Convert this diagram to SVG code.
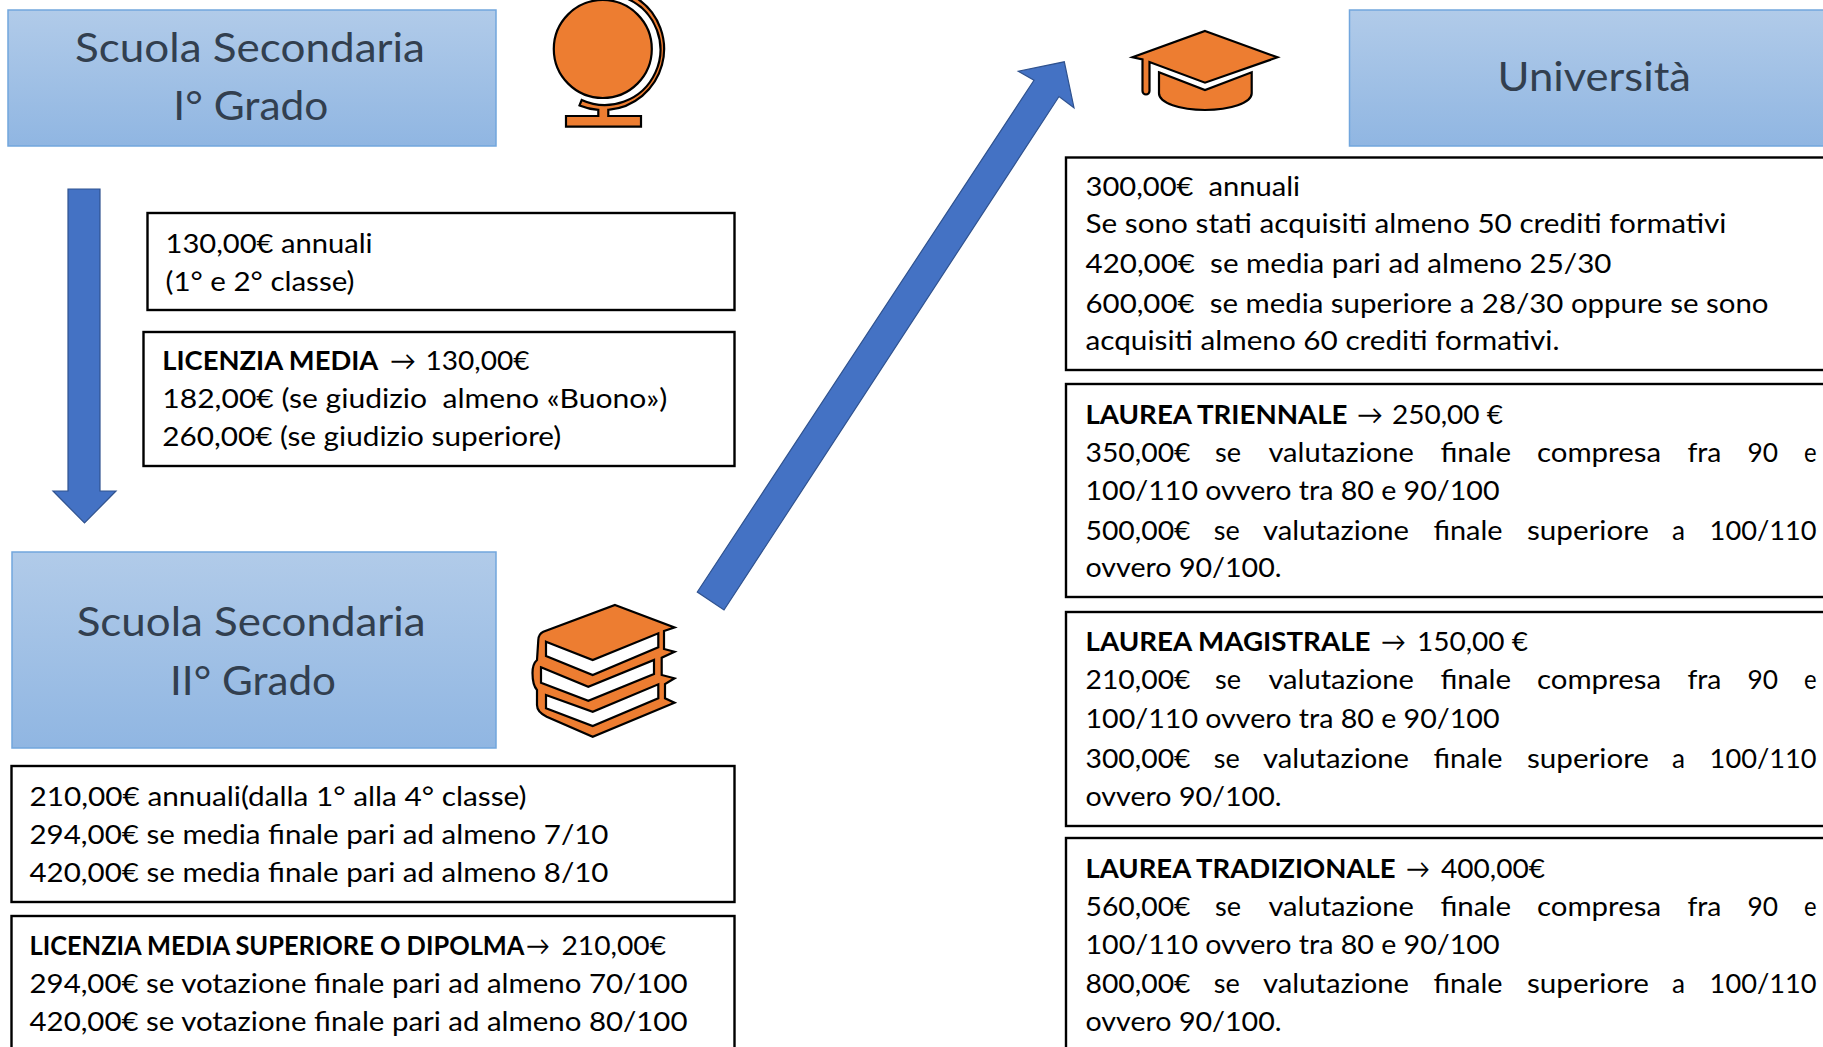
<svg xmlns="http://www.w3.org/2000/svg" width="1823" height="1047" viewBox="0 0 1823 1047">
<style>
text{white-space:pre}
.t{font-family:Lato,"Open Sans",sans-serif;font-size:26.5px;fill:#000}
.b{font-weight:700}
.h{font-family:Lato,"Open Sans",sans-serif;font-size:40px;fill:#323f4f}
.box{fill:#fff;stroke:#000;stroke-width:2.4}
.head{fill:url(#g);stroke:#72a6dd;stroke-width:1.5}
.arrow{fill:#4472c4;stroke:#2f528f;stroke-width:1.2}
.ic{fill:#ed7d31;stroke:#000;stroke-width:2.2;stroke-linejoin:miter}
.pg{fill:#fff;stroke:#000;stroke-width:2.2}
</style>
<defs>
<linearGradient id="g" x1="0" y1="0" x2="0" y2="1"><stop offset="0" stop-color="#b1cbe9"/><stop offset="1" stop-color="#90b6e2"/></linearGradient>
</defs>
<rect width="1823" height="1047" fill="#fff"/>
<g id="connectors">
<polygon class="arrow" points="68,189 100,189 100,491 116,491 84.5,523 53,491 68,491"/>
<polygon class="arrow" points="697.3,592 1034,80.3 1018.3,71.2 1064.3,61.8 1074,107.7 1059,96.5 724,610"/>
</g>
<g id="head-secondaria-1">
<rect class="head" x="8" y="10" width="488" height="136"/>
<text class="h" x="75" y="62" textLength="350" lengthAdjust="spacingAndGlyphs">Scuola Secondaria</text>
<text class="h" x="173.3" y="120" textLength="155" lengthAdjust="spacingAndGlyphs">I° Grado</text>
</g>
<g id="icon-globe">
<circle class="ic" cx="602.8" cy="49" r="49"/>
<path class="ic" d="M628,-1 A55,55 0 0 1 581.7,100 L579.5,105.4 A61,61 0 0 0 598.3,109.8 V116 H566 V126.7 H641 V116 H608.3 V109.8 A61,61 0 0 0 638,-1 Z"/>
</g>
<g id="head-secondaria-2">
<rect class="head" x="12" y="552" width="484" height="196"/>
<text class="h" x="76.7" y="636" textLength="349" lengthAdjust="spacingAndGlyphs">Scuola Secondaria</text>
<text class="h" x="170" y="694.5" textLength="166" lengthAdjust="spacingAndGlyphs">II° Grado</text>
</g>
<g id="icon-books">
<path class="ic" d="M615,605 L674.5,627.5 L664,631 V649 L674.5,651.7 L661.7,657.7 V675 L674.5,678.3 L665,684 V698.3 L674.5,702.7 L592.7,736.7 L546.7,716.7 Q537,712 537,705 V690 Q532.5,685 532.5,673 Q532.5,664 537,660 L538.3,640 Q538.5,634 543.3,631.7 Z"/>
<polygon class="pg" points="546,641.7 592.7,660 658.3,633.3 658.3,647.3 592.7,675 546,656"/>
<polygon class="pg" points="541,667.3 588.3,686.7 654,660 654,674 588.3,700.7 541,682.7"/>
<polygon class="pg" points="546,695 592.7,711.7 658.3,684.3 658.3,698.3 592.7,726 546,708.3"/>
</g>
<g id="head-universita">
<rect class="head" x="1349.5" y="10" width="480" height="136"/>
<text class="h" x="1497.5" y="91" textLength="193.5" lengthAdjust="spacingAndGlyphs">Università</text>
</g>
<g id="icon-cap">
<path class="ic" d="M1205,31 L1277.5,57.3 L1205,82.7 L1149.5,62 V91 a3.5,3.5 0 0 1 -7,0 V59.5 L1132.5,57.3 Z"/>
<path class="ic" d="M1159,72.3 L1205,90 L1251.7,72.3 V93.3 C1251.7,103 1230,110 1205,110 C1180,110 1159,103 1159,93.3 Z"/>
</g>
<g id="box-1">
<rect class="box" x="147.5" y="213" width="587" height="97"/>
<text class="t" x="165.5" y="252.7" textLength="207" lengthAdjust="spacingAndGlyphs">130,00€ annuali</text>
<text class="t" x="165.5" y="291" textLength="189" lengthAdjust="spacingAndGlyphs">(1° e 2° classe)</text>
</g>
<g id="box-2">
<rect class="box" x="143.5" y="332" width="591" height="134"/>
<text class="t" y="369.5"><tspan class="b" x="162.3" textLength="216" lengthAdjust="spacingAndGlyphs">LICENZIA MEDIA</tspan> <tspan x="390" textLength="26" lengthAdjust="spacingAndGlyphs">→</tspan> <tspan x="425.5" textLength="104" lengthAdjust="spacingAndGlyphs">130,00€</tspan></text>
<text class="t" x="162.3" y="407.7" textLength="505" lengthAdjust="spacingAndGlyphs">182,00€ (se giudizio  almeno «Buono»)</text>
<text class="t" x="162.3" y="446" textLength="399" lengthAdjust="spacingAndGlyphs">260,00€ (se giudizio superiore)</text>
</g>
<g id="box-3">
<rect class="box" x="11.5" y="766" width="723" height="136"/>
<text class="t" x="29.5" y="806" textLength="497" lengthAdjust="spacingAndGlyphs">210,00€ annuali(dalla 1° alla 4° classe)</text>
<text class="t" x="29.5" y="844" textLength="579" lengthAdjust="spacingAndGlyphs">294,00€ se media finale pari ad almeno 7/10</text>
<text class="t" x="29.5" y="882" textLength="579" lengthAdjust="spacingAndGlyphs">420,00€ se media finale pari ad almeno 8/10</text>
</g>
<g id="box-4">
<rect class="box" x="11.5" y="916" width="723" height="140"/>
<text class="t" y="955"><tspan class="b" x="29.5" textLength="495" lengthAdjust="spacingAndGlyphs">LICENZIA MEDIA SUPERIORE O DIPOLMA</tspan><tspan x="526" textLength="24" lengthAdjust="spacingAndGlyphs">→</tspan> <tspan x="561.5" textLength="104.5" lengthAdjust="spacingAndGlyphs">210,00€</tspan></text>
<text class="t" x="29.5" y="993" textLength="658" lengthAdjust="spacingAndGlyphs">294,00€ se votazione finale pari ad almeno 70/100</text>
<text class="t" x="29.5" y="1030.5" textLength="658" lengthAdjust="spacingAndGlyphs">420,00€ se votazione finale pari ad almeno 80/100</text>
</g>
<g id="box-5">
<rect class="box" x="1066" y="157.5" width="770" height="212.5"/>
<text class="t" x="1085.5" y="195.7" textLength="214.5" lengthAdjust="spacingAndGlyphs">300,00€  annuali</text>
<text class="t" x="1085.5" y="233.3" textLength="641" lengthAdjust="spacingAndGlyphs">Se sono stati acquisiti almeno 50 crediti formativi</text>
<text class="t" x="1085.5" y="272.7" textLength="526" lengthAdjust="spacingAndGlyphs">420,00€  se media pari ad almeno 25/30</text>
<text class="t" x="1085.5" y="312.5" textLength="683" lengthAdjust="spacingAndGlyphs">600,00€  se media superiore a 28/30 oppure se sono</text>
<text class="t" x="1085.5" y="350" textLength="474" lengthAdjust="spacingAndGlyphs">acquisiti almeno 60 crediti formativi.</text>
</g>
<g id="box-6">
<rect class="box" x="1066" y="384" width="770" height="213"/>
<text class="t" y="423.5"><tspan class="b" x="1085.5" textLength="262" lengthAdjust="spacingAndGlyphs">LAUREA TRIENNALE</tspan> <tspan x="1357" textLength="26" lengthAdjust="spacingAndGlyphs">→</tspan> <tspan x="1392" textLength="111" lengthAdjust="spacingAndGlyphs">250,00 €</tspan></text>
<text class="t" y="462"><tspan x="1085.5" textLength="105" lengthAdjust="spacingAndGlyphs">350,00€</tspan> <tspan x="1215" textLength="26" lengthAdjust="spacingAndGlyphs">se</tspan> <tspan x="1268.4" textLength="145.4" lengthAdjust="spacingAndGlyphs">valutazione</tspan> <tspan x="1440.4" textLength="70.6" lengthAdjust="spacingAndGlyphs">finale</tspan> <tspan x="1537" textLength="124" lengthAdjust="spacingAndGlyphs">compresa</tspan> <tspan x="1687.4" textLength="34" lengthAdjust="spacingAndGlyphs">fra</tspan> <tspan x="1747.5" textLength="30.5" lengthAdjust="spacingAndGlyphs">90</tspan> <tspan x="1804" textLength="12.6" lengthAdjust="spacingAndGlyphs">e</tspan></text>
<text class="t" x="1085.5" y="499.5" textLength="414" lengthAdjust="spacingAndGlyphs">100/110 ovvero tra 80 e 90/100</text>
<text class="t" y="539.5"><tspan x="1085.5" textLength="105" lengthAdjust="spacingAndGlyphs">500,00€</tspan> <tspan x="1213.7" textLength="26" lengthAdjust="spacingAndGlyphs">se</tspan> <tspan x="1263" textLength="146" lengthAdjust="spacingAndGlyphs">valutazione</tspan> <tspan x="1433.5" textLength="69" lengthAdjust="spacingAndGlyphs">finale</tspan> <tspan x="1527" textLength="122" lengthAdjust="spacingAndGlyphs">superiore</tspan> <tspan x="1672" textLength="13" lengthAdjust="spacingAndGlyphs">a</tspan> <tspan x="1709.6" textLength="107" lengthAdjust="spacingAndGlyphs">100/110</tspan></text>
<text class="t" x="1085.5" y="577" textLength="196" lengthAdjust="spacingAndGlyphs">ovvero 90/100.</text>
</g>
<g id="box-7">
<rect class="box" x="1066" y="612" width="770" height="214"/>
<text class="t" y="651"><tspan class="b" x="1085.5" textLength="285" lengthAdjust="spacingAndGlyphs">LAUREA MAGISTRALE</tspan> <tspan x="1381" textLength="25" lengthAdjust="spacingAndGlyphs">→</tspan> <tspan x="1417" textLength="111" lengthAdjust="spacingAndGlyphs">150,00 €</tspan></text>
<text class="t" y="689"><tspan x="1085.5" textLength="105" lengthAdjust="spacingAndGlyphs">210,00€</tspan> <tspan x="1215" textLength="26" lengthAdjust="spacingAndGlyphs">se</tspan> <tspan x="1268.4" textLength="145.4" lengthAdjust="spacingAndGlyphs">valutazione</tspan> <tspan x="1440.4" textLength="70.6" lengthAdjust="spacingAndGlyphs">finale</tspan> <tspan x="1537" textLength="124" lengthAdjust="spacingAndGlyphs">compresa</tspan> <tspan x="1687.4" textLength="34" lengthAdjust="spacingAndGlyphs">fra</tspan> <tspan x="1747.5" textLength="30.5" lengthAdjust="spacingAndGlyphs">90</tspan> <tspan x="1804" textLength="12.6" lengthAdjust="spacingAndGlyphs">e</tspan></text>
<text class="t" x="1085.5" y="727.5" textLength="414" lengthAdjust="spacingAndGlyphs">100/110 ovvero tra 80 e 90/100</text>
<text class="t" y="768"><tspan x="1085.5" textLength="105" lengthAdjust="spacingAndGlyphs">300,00€</tspan> <tspan x="1213.7" textLength="26" lengthAdjust="spacingAndGlyphs">se</tspan> <tspan x="1263" textLength="146" lengthAdjust="spacingAndGlyphs">valutazione</tspan> <tspan x="1433.5" textLength="69" lengthAdjust="spacingAndGlyphs">finale</tspan> <tspan x="1527" textLength="122" lengthAdjust="spacingAndGlyphs">superiore</tspan> <tspan x="1672" textLength="13" lengthAdjust="spacingAndGlyphs">a</tspan> <tspan x="1709.6" textLength="107" lengthAdjust="spacingAndGlyphs">100/110</tspan></text>
<text class="t" x="1085.5" y="806" textLength="196" lengthAdjust="spacingAndGlyphs">ovvero 90/100.</text>
</g>
<g id="box-8">
<rect class="box" x="1066" y="838" width="770" height="220"/>
<text class="t" y="878"><tspan class="b" x="1085.5" textLength="310" lengthAdjust="spacingAndGlyphs">LAUREA TRADIZIONALE</tspan> <tspan x="1406" textLength="24" lengthAdjust="spacingAndGlyphs">→</tspan> <tspan x="1441" textLength="104" lengthAdjust="spacingAndGlyphs">400,00€</tspan></text>
<text class="t" y="915.5"><tspan x="1085.5" textLength="105" lengthAdjust="spacingAndGlyphs">560,00€</tspan> <tspan x="1215" textLength="26" lengthAdjust="spacingAndGlyphs">se</tspan> <tspan x="1268.4" textLength="145.4" lengthAdjust="spacingAndGlyphs">valutazione</tspan> <tspan x="1440.4" textLength="70.6" lengthAdjust="spacingAndGlyphs">finale</tspan> <tspan x="1537" textLength="124" lengthAdjust="spacingAndGlyphs">compresa</tspan> <tspan x="1687.4" textLength="34" lengthAdjust="spacingAndGlyphs">fra</tspan> <tspan x="1747.5" textLength="30.5" lengthAdjust="spacingAndGlyphs">90</tspan> <tspan x="1804" textLength="12.6" lengthAdjust="spacingAndGlyphs">e</tspan></text>
<text class="t" x="1085.5" y="954" textLength="414" lengthAdjust="spacingAndGlyphs">100/110 ovvero tra 80 e 90/100</text>
<text class="t" y="993"><tspan x="1085.5" textLength="105" lengthAdjust="spacingAndGlyphs">800,00€</tspan> <tspan x="1213.7" textLength="26" lengthAdjust="spacingAndGlyphs">se</tspan> <tspan x="1263" textLength="146" lengthAdjust="spacingAndGlyphs">valutazione</tspan> <tspan x="1433.5" textLength="69" lengthAdjust="spacingAndGlyphs">finale</tspan> <tspan x="1527" textLength="122" lengthAdjust="spacingAndGlyphs">superiore</tspan> <tspan x="1672" textLength="13" lengthAdjust="spacingAndGlyphs">a</tspan> <tspan x="1709.6" textLength="107" lengthAdjust="spacingAndGlyphs">100/110</tspan></text>
<text class="t" x="1085.5" y="1031" textLength="196" lengthAdjust="spacingAndGlyphs">ovvero 90/100.</text>
</g>
</svg>
